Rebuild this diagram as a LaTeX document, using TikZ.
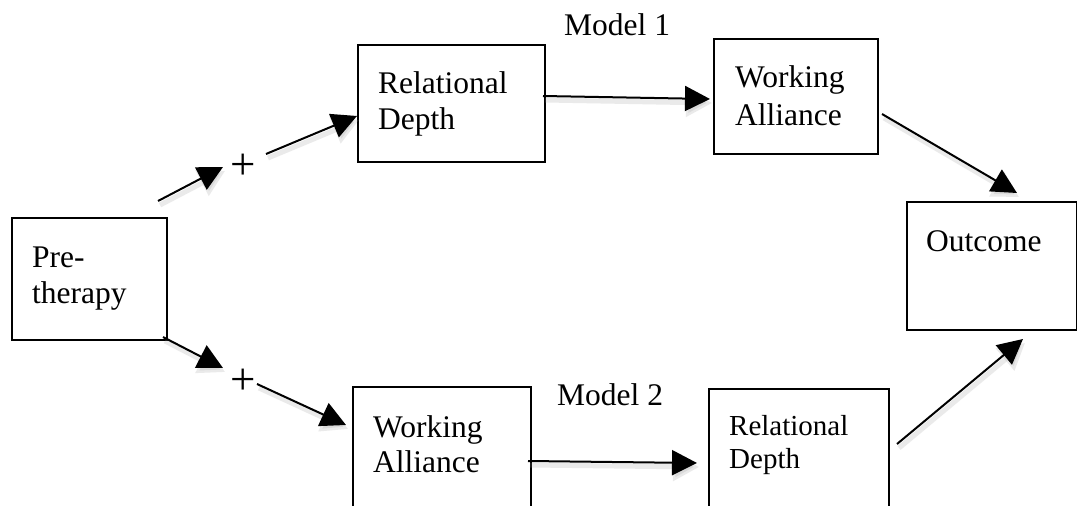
\documentclass[tikz,border=0pt]{standalone}
\usepackage{fontspec}
\setmainfont{Liberation Serif}
\usetikzlibrary{arrows.meta}
\begin{document}
\begin{tikzpicture}[x=1pt,y=-1pt,
  boxnode/.style={draw=black, line width=1.5pt, inner sep=0pt, anchor=north west},
  lbl/.style={anchor=base west, inner sep=0pt, font=\fontsize{31.5}{36}\selectfont},
  smalllbl/.style={anchor=base west, inner sep=0pt, font=\fontsize{29}{33}\selectfont},
  plusnode/.style={inner sep=0pt, font=\fontsize{45}{48}\selectfont},
  arr/.style={line width=2pt, -{Triangle[length=25pt,width=25pt]},
    preaction={draw=black!40, opacity=0.2, line width=5pt, -{Triangle[length=26pt,width=28pt]},
      transform canvas={shift={(2pt,-4pt)}}}}
]
\useasboundingbox (0,0) rectangle (1077,506);
\clip (0,0) rectangle (1077,506);
\fill[white] (0,0) rectangle (1077,506);

% boxes
\node[boxnode, minimum width=155pt, minimum height=122pt] (pre) at (11,217) {};
\node[boxnode, minimum width=187pt, minimum height=117pt] (rd1) at (357,44) {};
\node[boxnode, minimum width=164pt, minimum height=115pt] (wa1) at (713,38) {};
\node[boxnode, minimum width=170pt, minimum height=128pt] (out) at (906,201) {};
\node[boxnode, minimum width=178pt, minimum height=160pt] (wa2) at (352,386) {};
\node[boxnode, minimum width=180pt, minimum height=160pt] (rd2) at (708,388) {};

% labels
\node[lbl] (pret1) at (32,267) {Pre-};
\node[lbl] (pret2) at (32,303) {therapy};
\node[lbl] (rd1t1) at (378,93) {Relational};
\node[lbl] (rd1t2) at (378,129) {Depth};
\node[lbl] (wa1t1) at (735,87) {Working};
\node[lbl] (wa1t2) at (735,125) {Alliance};
\node[lbl] (outt) at (926,251) {Outcome};
\node[lbl] (wa2t1) at (373,437) {Working};
\node[lbl] (wa2t2) at (373,472) {Alliance};
\node[smalllbl] (rd2t1) at (729,435) {Relational};
\node[smalllbl] (rd2t2) at (729,468) {Depth};
\node[lbl] (m1) at (564,35) {Model 1};
\node[lbl] (m2) at (557,405) {Model 2};
\node[plusnode] (p1) at (243,167) {+};
\node[plusnode] (p2) at (243,382) {+};

% connector end points
\coordinate (a1s) at (158,201);
\coordinate (a1e) at (223,167);
\coordinate (a2s) at (266,154);
\coordinate (a2e) at (357,116);
\coordinate (a3s) at (163,337);
\coordinate (a3e) at (223,368);
\coordinate (a4s) at (257,384);
\coordinate (a4e) at (346,425);
\coordinate (a5s) at (543,96);
\coordinate (a5e) at (710,99);
\coordinate (a6s) at (882,114);
\coordinate (a6e) at (1017,193);
\coordinate (a7s) at (528,461);
\coordinate (a7e) at (697,463);
\coordinate (a8s) at (897,444);
\coordinate (a8e) at (1023,339);

\draw[arr] (a1s) -- (a1e);
\draw[arr] (a2s) -- (a2e);
\draw[arr] (a3s) -- (a3e);
\draw[arr] (a4s) -- (a4e);
\draw[arr] (a5s) -- (a5e);
\draw[arr] (a6s) -- (a6e);
\draw[arr] (a7s) -- (a7e);
\draw[arr] (a8s) -- (a8e);
\end{tikzpicture}
\end{document}
